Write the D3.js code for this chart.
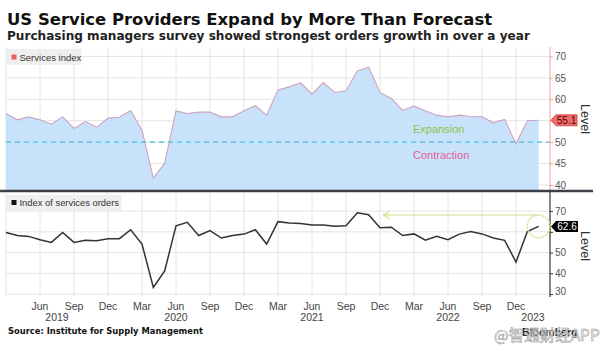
<!DOCTYPE html>
<html><head><meta charset="utf-8">
<script src="https://cdn.jsdelivr.net/npm/d3@7"></script>
<style>body{margin:0;background:#fff;} svg{display:block}</style>
</head><body>
<svg id="c" width="612" height="351"></svg>
<script>
// ---- Data (monthly, Mar 2019 .. Feb 2023) ----
const firstMonth = new Date(2019, 2, 1);
const servicesIndex = [
  56.6,55.2,55.9,55.2,54.2,55.9,53.2,54.8,53.5,55.6,
  55.8,57.4,52.8,41.6,45.1,57.3,56.7,57.0,57.0,55.9,55.9,57.3,
  58.5,56.3,62.2,62.9,63.8,61.2,63.9,61.6,62.0,66.6,67.5,61.6,
  60.2,57.4,58.4,57.3,56.3,55.9,56.3,56.0,55.9,54.5,55.3,49.6,
  55.0,55.1];
const servicesOrders = [
  59.7,58.2,57.8,56.2,54.9,59.7,54.9,55.9,55.7,56.7,
  56.7,61.0,54.1,33.2,41.1,62.9,64.6,58.2,60.6,57.0,58.2,58.9,
  61.0,54.1,64.9,64.3,64.0,63.3,63.3,62.7,62.9,69.2,68.2,62.0,
  62.2,58.2,59.0,56.0,57.8,56.2,58.9,60.1,59.0,57.0,55.9,45.4,
  60.1,62.6];
const tickMonthIdx = [3,6,9,12,15,18,21,24,27,30,33,36,39,42,45];
const yearLabels = ["2019","2020","2021","2022","2023"];
const yearAnchorIdx = [4.5,15,27,39,46.5];
const topTicks = [40,45,50,55,60,65,70];
const topTickLabels = [40,45,50,60,65,70];   // 55 hidden behind the value tag
const botTicks = [30,40,50,60,70];
const botTickLabels = [30,40,50,70];         // 60 hidden behind the value tag
const threshold = 50;
const lastServices = "55.1";
const lastOrders = "62.6";
const peakOrders = 68.1;

const months = servicesIndex.map((_, i) => d3.timeMonth.offset(firstMonth, i));

const svg = d3.select("#c");
const SANS = "'Liberation Sans', Arial, sans-serif";
const BOLD = "'DejaVu Sans', Verdana, sans-serif";

const x = d3.scaleLinear().domain([0, 48]).range([6, 550]);
const yTop = d3.scaleLinear().domain([38.6, 72.2]).range([191, 47]);
const yBot = d3.scaleLinear().domain([29.05, 79.2]).range([296, 192]);

function fitText(sel, w) {
  const n = sel.node();
  const fs = parseFloat(sel.attr("font-size"));
  const len = n.getComputedTextLength();
  sel.attr("font-size", (fs * w / len).toFixed(2));
}

// ---- Titles ----
fitText(svg.append("text").attr("x", 7).attr("y", 25).attr("font-family", BOLD)
  .attr("font-weight", "bold").attr("font-size", 16).attr("fill", "#111")
  .text("US Service Providers Expand by More Than Forecast"), 485);
fitText(svg.append("text").attr("x", 7).attr("y", 39.5).attr("font-family", BOLD)
  .attr("font-weight", "bold").attr("font-size", 12).attr("fill", "#222")
  .text("Purchasing managers survey showed strongest orders growth in over a year"), 523);

// ---- Grid ----
const grid = svg.append("g").attr("stroke", "#e4e4e4").attr("stroke-width", 1);
[0, ...tickMonthIdx].forEach(i => {
  grid.append("line").attr("x1", x(i)).attr("x2", x(i)).attr("y1", 47).attr("y2", 190);
  grid.append("line").attr("x1", x(i)).attr("x2", x(i)).attr("y1", 193).attr("y2", 296);
});
topTicks.forEach(t => grid.append("line").attr("x1", 6).attr("x2", 550)
  .attr("y1", yTop(t)).attr("y2", yTop(t)));
botTicks.forEach(t => grid.append("line").attr("x1", 6).attr("x2", 550)
  .attr("y1", yBot(t)).attr("y2", yBot(t)));

// ---- Top panel: area + line ----
const area = d3.area().x((d, i) => x(i)).y0(191).y1(d => yTop(d));
svg.append("path").datum(servicesIndex).attr("d", area)
  .attr("fill", "#c2dffb").attr("fill-opacity", 0.9);
svg.append("path").datum(servicesIndex)
  .attr("d", d3.line().x((d, i) => x(i)).y(d => yTop(d)))
  .attr("fill", "none").attr("stroke", "#cfa3bf").attr("stroke-width", 1.1);

svg.append("line").attr("x1", 6).attr("x2", 550)
  .attr("y1", yTop(threshold)).attr("y2", yTop(threshold))
  .attr("stroke", "#45c1dc").attr("stroke-width", 1.3).attr("stroke-dasharray", "5,4");

svg.append("text").attr("x", 413).attr("y", 133).attr("font-family", SANS)
  .attr("font-size", 11).attr("fill", "#8cc63e").text("Expansion");
svg.append("text").attr("x", 413).attr("y", 159).attr("font-family", SANS)
  .attr("font-size", 11).attr("fill", "#e3609a").text("Contraction");

// legend top
svg.append("rect").attr("x", 6.5).attr("y", 49).attr("width", 75).attr("height", 16).attr("fill", "#efefef");
svg.append("rect").attr("x", 11.5).attr("y", 54.5).attr("width", 5).attr("height", 5).attr("fill", "#e8605f");
svg.append("text").attr("x", 19.5).attr("y", 60.8).attr("font-family", SANS)
  .attr("font-size", 9.5).attr("fill", "#333").text("Services index");

// ---- Top right axis ----
const axT = svg.append("g").attr("transform", "translate(550,0)")
  .call(d3.axisRight(yTop).tickValues(topTicks).tickSize(3).tickPadding(2)
    .tickFormat(d => topTickLabels.includes(d) ? d : ""));
axT.select(".domain").remove();
axT.selectAll(".tick line").attr("stroke", "#f09a9a");
axT.selectAll(".tick text").attr("font-family", SANS).attr("font-size", 10).attr("fill", "#555");
svg.append("line").attr("x1", 550).attr("x2", 550).attr("y1", 47).attr("y2", 190)
  .attr("stroke", "#f2a0a0").attr("stroke-width", 1);

// value tag services
const ty = yTop(servicesIndex[servicesIndex.length - 1]);
svg.append("path").attr("d", `M551,${ty} L556,${ty-5.5} L577,${ty-5.5} L577,${ty+5.5} L556,${ty+5.5} Z`)
  .attr("fill", "#f26a6a").attr("stroke", "#c83a3a").attr("stroke-width", 0.8);
svg.append("text").attr("x", 566.5).attr("y", ty + 3.6).attr("text-anchor", "middle")
  .attr("font-family", SANS).attr("font-size", 10).attr("fill", "#4a0606").text(lastServices);

svg.append("text").attr("transform", `translate(581,119) rotate(90)`).attr("text-anchor", "middle")
  .attr("font-family", SANS).attr("font-size", 12.5).attr("fill", "#333").text("Level");

// ---- Separator ----
svg.append("line").attr("x1", 0).attr("x2", 593).attr("y1", 191).attr("y2", 191)
  .attr("stroke", "#3a4046").attr("stroke-width", 2.6);

// ---- Bottom panel ----
svg.append("path").datum(servicesOrders)
  .attr("d", d3.line().x((d, i) => x(i)).y(d => yBot(d)))
  .attr("fill", "none").attr("stroke", "#333").attr("stroke-width", 1.5);

svg.append("rect").attr("x", 6.5).attr("y", 195).attr("width", 115).attr("height", 16).attr("fill", "#efefef");
svg.append("rect").attr("x", 11.5).attr("y", 200).attr("width", 5).attr("height", 5).attr("fill", "#111");
svg.append("text").attr("x", 19.5).attr("y", 206.3).attr("font-family", SANS)
  .attr("font-size", 9.4).attr("fill", "#333").text("Index of services orders");

const axB = svg.append("g").attr("transform", "translate(550,0)")
  .call(d3.axisRight(yBot).tickValues(botTicks).tickSize(3).tickPadding(2)
    .tickFormat(d => botTickLabels.includes(d) ? d : ""));
axB.select(".domain").remove();
axB.selectAll(".tick line").attr("stroke", "#333");
axB.selectAll(".tick text").attr("font-family", SANS).attr("font-size", 10).attr("fill", "#555");
axB.selectAll(".tick").filter(d => d === 30).select("text").attr("dy", "0.05em");
svg.append("line").attr("x1", 550).attr("x2", 550).attr("y1", 192).attr("y2", 297)
  .attr("stroke", "#333").attr("stroke-width", 1.2);

// annotation arrow + circle
const lx = x(servicesOrders.length - 1), ly = yBot(servicesOrders[servicesOrders.length - 1]);
const ay = yBot(peakOrders);
const green = "#c9e28c";
svg.append("circle").attr("cx", lx).attr("cy", ly).attr("r", ly - ay)
  .attr("fill", "none").attr("stroke", green).attr("stroke-width", 1.4).attr("stroke-dasharray", "2,1");
svg.append("line").attr("x1", x(33.3)).attr("x2", lx).attr("y1", ay).attr("y2", ay)
  .attr("stroke", green).attr("stroke-width", 1.2);
svg.append("path").attr("d", `M${x(33.3)+6},${ay-3.5} L${x(33.3)},${ay} L${x(33.3)+6},${ay+3.5}`)
  .attr("fill", "none").attr("stroke", green).attr("stroke-width", 1.2);

// value tag orders
svg.append("path").attr("d", `M551,${ly} L556,${ly-5.5} L578,${ly-5.5} L578,${ly+5.5} L556,${ly+5.5} Z`)
  .attr("fill", "#000");
svg.append("text").attr("x", 567).attr("y", ly + 3.6).attr("text-anchor", "middle")
  .attr("font-family", SANS).attr("font-size", 10).attr("fill", "#fff").text(lastOrders);

svg.append("text").attr("transform", `translate(581,246) rotate(90)`).attr("text-anchor", "middle")
  .attr("font-family", SANS).attr("font-size", 12.5).attr("fill", "#333").text("Level");

// ---- X axis labels ----
const fmt = d3.timeFormat("%b");
svg.append("g").selectAll("text").data(tickMonthIdx).join("text")
  .attr("x", d => x(d)).attr("y", 309.5).attr("text-anchor", "middle")
  .attr("font-family", SANS).attr("font-size", 10.5).attr("fill", "#444")
  .text(d => fmt(months[d]));
svg.append("g").selectAll("text").data(yearLabels).join("text")
  .attr("x", (d, i) => x(yearAnchorIdx[i])).attr("y", 321).attr("text-anchor", "middle")
  .attr("font-family", SANS).attr("font-size", 10.5).attr("fill", "#444")
  .text(d => d);

// ---- Source & branding ----
fitText(svg.append("text").attr("x", 8).attr("y", 334).attr("font-family", BOLD)
  .attr("font-weight", "bold").attr("font-size", 9).attr("fill", "#111")
  .text("Source: Institute for Supply Management"), 195);
svg.append("text").attr("x", 522).attr("y", 335.5).attr("font-family", SANS)
  .attr("font-weight", "bold").attr("font-size", 10.5).attr("fill", "#222").text("Bloomberg");
svg.append("text").attr("x", 494).attr("y", 341).attr("font-family", "'Noto Sans CJK SC', sans-serif")
  .attr("font-size", 15.5).attr("fill", "#fff").attr("fill-opacity", 0.75)
  .attr("stroke", "#9a9a9a").attr("stroke-width", 0.6).text("@智通财经APP");
</script>
</body></html>
